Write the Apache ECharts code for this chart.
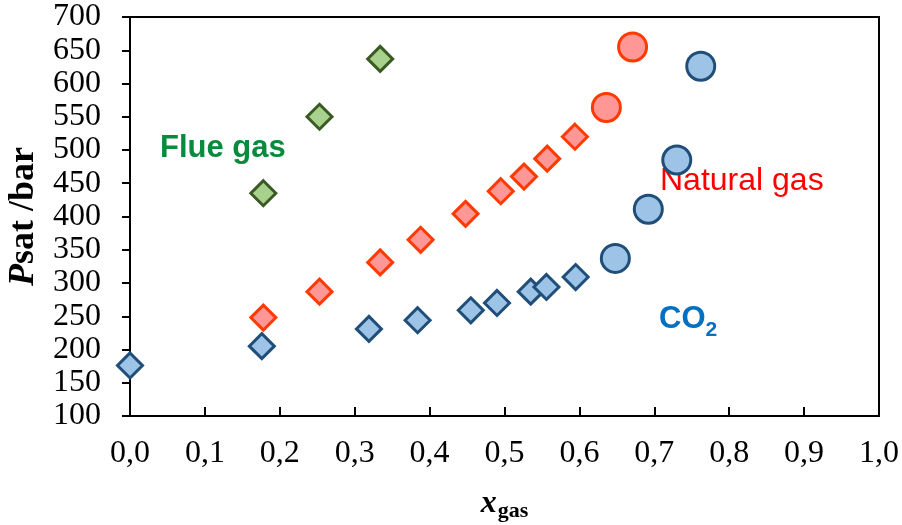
<!DOCTYPE html>
<html>
<head>
<meta charset="utf-8">
<script src="https://cdn.jsdelivr.net/npm/echarts@6/dist/echarts.min.js"></script>
<style>
  html, body { margin: 0; padding: 0; background: #fff; }
  #chart { width: 902px; height: 525px; }
</style>
</head>
<body>
<div id="chart"></div>
<script>
// data
var flueGasX = [0.178, 0.253, 0.334];
var flueGasP = [435, 550, 637];

var natGasX = [0.178, 0.253, 0.334, 0.388, 0.448, 0.495, 0.526, 0.557, 0.594];
var natGasP = [248, 287, 331, 365, 404, 438, 460, 487, 520];
var natGasBigX = [0.636, 0.671];
var natGasBigP = [564, 655];

var co2X = [0.0, 0.176, 0.319, 0.384, 0.455, 0.490, 0.535, 0.556, 0.595];
var co2P = [176, 205, 231, 244, 259, 270, 287, 294, 309];
var co2BigX = [0.648, 0.692, 0.730, 0.762];
var co2BigP = [337, 411, 485, 626];

function pairs(xs, ys) {
  return xs.map(function (x, i) { return [x, ys[i]]; });
}

var serif = '"Liberation Serif", "Times New Roman", serif';
var sans = '"Liberation Sans", Arial, sans-serif';

var chart = echarts.init(document.getElementById('chart'), null, { renderer: 'canvas' });

function markSeries(name, data, symbol, size, fill, stroke) {
  return {
    name: name,
    type: 'scatter',
    data: data,
    symbol: symbol,
    symbolSize: size,
    itemStyle: { color: fill, borderColor: stroke, borderWidth: 3, opacity: 1 },
    emphasis: { disabled: true }
  };
}

var option = {
  animation: false,
  backgroundColor: '#fff',
  grid: {
    left: 130, right: 23, top: 17, bottom: 109,
    containLabel: false, outerBoundsMode: 'none',
    show: true, borderColor: '#000', borderWidth: 2, backgroundColor: 'transparent'
  },
  xAxis: {
    type: 'value',
    min: 0, max: 1, interval: 0.1,
    name: '{x|x}{s|gas}',
    nameLocation: 'middle',
    nameGap: 70,
    nameTextStyle: {
      rich: {
        x: { fontFamily: serif, fontSize: 32, fontWeight: 'bold', fontStyle: 'italic', color: '#000' },
        s: { fontFamily: serif, fontSize: 22, fontWeight: 'bold', color: '#000', padding: [14, 0, 0, 1] }
      }
    },
    axisLine: { show: true, onZero: false, lineStyle: { color: '#000', width: 2 } },
    axisTick: { show: true, inside: true, length: 9, lineStyle: { color: '#000', width: 2 } },
    axisLabel: {
      margin: 22,
      fontFamily: serif, fontSize: 32, color: '#000',
      formatter: function (v) { return v.toFixed(1).replace('.', ','); }
    },
    splitLine: { show: false }
  },
  yAxis: {
    type: 'value',
    min: 100, max: 700, interval: 50,
    name: '{p|P}{t|sat /bar}',
    nameLocation: 'middle',
    nameRotate: 90,
    nameGap: 88,
    nameTextStyle: {
      rich: {
        p: { fontFamily: serif, fontSize: 36, fontWeight: 'bold', fontStyle: 'italic', color: '#000' },
        t: { fontFamily: serif, fontSize: 36, fontWeight: 'bold', color: '#000' }
      }
    },
    axisLine: { show: true, onZero: false, lineStyle: { color: '#000', width: 2 } },
    axisTick: { show: true, inside: false, length: 8, lineStyle: { color: '#000', width: 2 } },
    axisLabel: { margin: 29, fontFamily: serif, fontSize: 32, color: '#000' },
    splitLine: { show: false }
  },
  graphic: [
    {
      type: 'text', left: 160, top: 133,
      style: { text: 'Flue gas', font: 'bold 31px ' + sans, fill: '#0a8a3c' }
    },
    {
      type: 'text', left: 660, top: 165,
      style: { text: 'Natural gas', font: '32px ' + sans, fill: '#ff0000' }
    },
    {
      type: 'text', left: 659, top: 304,
      style: {
        text: '{a|CO}{b|2}',
        rich: {
          a: { fontFamily: sans, fontSize: 31, fontWeight: 'bold', fill: '#0070c0', color: '#0070c0' },
          b: { fontFamily: sans, fontSize: 21, fontWeight: 'bold', fill: '#0070c0', color: '#0070c0', padding: [22, 0, 0, 0] }
        }
      }
    }
  ],
  series: [
    markSeries('Flue gas', pairs(flueGasX, flueGasP), 'diamond', 25, '#a9d18e', '#3b5a23'),
    markSeries('Natural gas', pairs(natGasX, natGasP), 'diamond', 25, '#ff9797', '#ff3a00'),
    markSeries('Natural gas high', pairs(natGasBigX, natGasBigP), 'circle', 28, '#ff9797', '#ff3a00'),
    markSeries('CO2', pairs(co2X, co2P), 'diamond', 25, '#9dc3e6', '#1f4e79'),
    markSeries('CO2 high', pairs(co2BigX, co2BigP), 'circle', 28, '#9dc3e6', '#1f4e79')
  ]
};

chart.setOption(option);
</script>
</body>
</html>
